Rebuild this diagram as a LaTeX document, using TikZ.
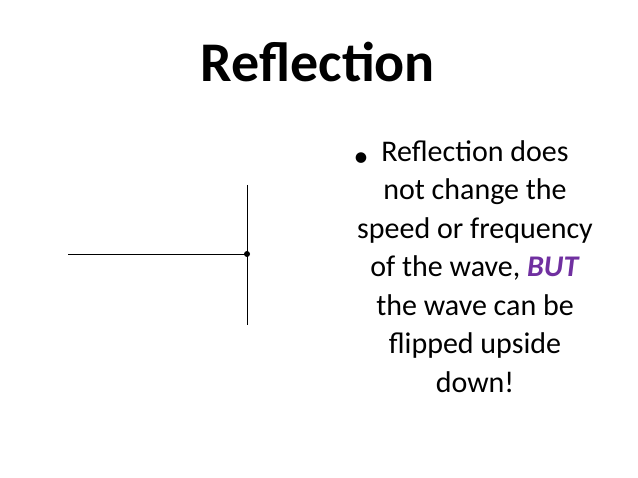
\documentclass[tikz,border=0pt]{standalone}
\usepackage{fontspec}
\setmainfont{Carlito}
\definecolor{butpurple}{RGB}{112,48,160}
\begin{document}
\begin{tikzpicture}[x=1pt,y=-1pt,
  body/.style={font=\fontsize{30}{38.5}\selectfont,align=center,inner sep=0pt}]
\useasboundingbox (0,0) rectangle (638,478);
\node[font=\bfseries\fontsize{56}{60}\selectfont,anchor=base,inner sep=0pt] (title) at (318,82) {Reflection};
\node[body,anchor=base] (bul) at (361,167) {•};
\node[body,anchor=north] (txt) at (475,140) {Reflection does\\not change the\\speed or frequency\\of the wave, \textcolor{butpurple}{\textbf{\textit{BUT}}}\\the wave can be\\flipped upside\\down!};
\coordinate (h0) at (68,254);
\coordinate (v0) at (247,185);
\coordinate (v1) at (247,325);
\node[circle,fill=black,inner sep=0pt,minimum size=6pt] (dot) at (247,254) {};
\draw[line width=0.6pt] (h0) -- (dot.center);
\draw[line width=0.6pt] (v0) -- (v1);
\end{tikzpicture}
\end{document}
